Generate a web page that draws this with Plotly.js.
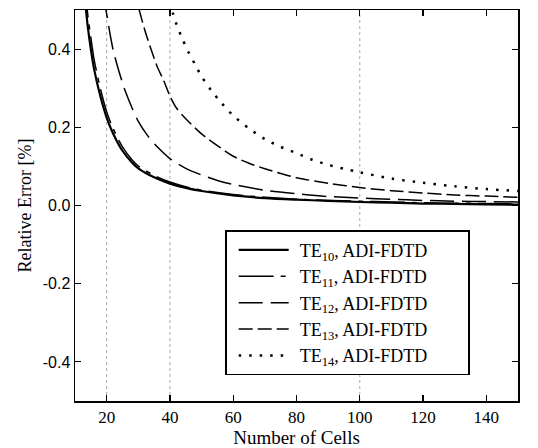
<!DOCTYPE html>
<html><head><meta charset="utf-8">
<script src="https://cdn.plot.ly/plotly-3.0.1.min.js"></script>
<style>html,body{margin:0;padding:0;background:#fff}</style>
</head><body><div id="chart" style="width:538px;height:448px"></div>
<script>
// Data
const xTE10 = [13, 14, 15, 16, 18, 20, 22, 25, 28, 30, 35, 40, 45, 50, 60, 70, 80, 90, 100, 110, 120, 130, 140, 150];
const yTE10 = [0.54, 0.46, 0.40, 0.35, 0.28, 0.225, 0.185, 0.14, 0.11, 0.095, 0.072, 0.056, 0.045, 0.037, 0.026, 0.019, 0.015, 0.012, 0.009, 0.007, 0.005, 0.004, 0.003, 0.002];
const xTE11 = [13, 14, 15, 16, 18, 20, 22, 25, 28, 30, 35, 40, 45, 50, 60, 70, 80, 90, 100, 110, 120, 130, 140, 150];
const yTE11 = [0.57, 0.49, 0.43, 0.375, 0.30, 0.24, 0.198, 0.150, 0.117, 0.101, 0.077, 0.060, 0.048, 0.039, 0.028, 0.021, 0.016, 0.013, 0.011, 0.009, 0.007, 0.006, 0.005, 0.004];
const xTE12 = [19, 20, 22, 24, 26, 28, 30, 33, 36, 40, 45, 50, 55, 60, 70, 80, 90, 100, 110, 120, 130, 140, 150];
const yTE12 = [0.54, 0.49, 0.40, 0.34, 0.29, 0.25, 0.215, 0.178, 0.15, 0.12, 0.095, 0.078, 0.064, 0.054, 0.039, 0.030, 0.023, 0.019, 0.016, 0.013, 0.011, 0.010, 0.009];
const xTE13 = [29, 30, 32, 34, 36, 38, 40, 42, 45, 48, 50, 55, 60, 65, 70, 75, 80, 90, 100, 110, 120, 130, 140, 150];
const yTE13 = [0.55, 0.51, 0.45, 0.40, 0.355, 0.32, 0.28, 0.25, 0.222, 0.198, 0.183, 0.153, 0.126, 0.108, 0.094, 0.082, 0.071, 0.057, 0.046, 0.038, 0.032, 0.027, 0.024, 0.021];
const xTE14 = [40, 41, 42, 44, 46, 48, 50, 53, 56, 60, 65, 70, 75, 80, 85, 90, 95, 100, 110, 120, 130, 140, 150];
const yTE14 = [0.52, 0.49, 0.465, 0.425, 0.39, 0.36, 0.33, 0.295, 0.265, 0.23, 0.197, 0.17, 0.150, 0.134, 0.117, 0.104, 0.094, 0.085, 0.069, 0.058, 0.049, 0.042, 0.037];

const seriesNames = ["TE<sub>10</sub>, ADI-FDTD", "TE<sub>11</sub>, ADI-FDTD", "TE<sub>12</sub>, ADI-FDTD", "TE<sub>13</sub>, ADI-FDTD", "TE<sub>14</sub>, ADI-FDTD"];
const xTickVals = [20, 40, 60, 80, 100, 120, 140];
const xTickText = ["20", "40", "60", "80", "100", "120", "140"];
const yTickVals = [-0.4, -0.2, 0, 0.2, 0.4];
const yTickText = ["-0.4", "-0.2", "0.0", "0.2", "0.4"];
const gridX = [20, 40, 100];

const styles = [
  {width: 2.2, dash: "solid"},
  {width: 1.5, dash: "35px,7px,5px,7px"},
  {width: 1.5, dash: "24px,8px"},
  {width: 1.5, dash: "14px,5px"},
  {width: 2.5, dash: "2.5px,8px"}
];
const xs = [xTE10, xTE11, xTE12, xTE13, xTE14];
const ys = [yTE10, yTE11, yTE12, yTE13, yTE14];

const traces = xs.map((x, i) => ({
  x: x, y: ys[i], name: seriesNames[i], type: "scatter", mode: "lines",
  line: {color: "#000", width: styles[i].width, dash: styles[i].dash, shape: "spline", smoothing: 0.8}
}));

const serif = "Liberation Serif, Times New Roman, serif";
const sans = "Liberation Sans, Arial, sans-serif";
const symW = 50;
const legendBoxW = 243;

const layout = {
  width: 538, height: 448,
  margin: {l: 75, r: 20, t: 10, b: 47},
  paper_bgcolor: "#fff", plot_bgcolor: "#fff",
  showlegend: true,
  xaxis: {
    range: [10, 150], tickvals: xTickVals, ticktext: xTickText,
    ticks: "inside", ticklen: 6, tickwidth: 1.2, tickcolor: "#000",
    showline: true, linecolor: "#000", linewidth: 1.5, mirror: "ticks",
    showgrid: false, zeroline: false,
    tickfont: {family: serif, size: 17, color: "#000"},
    title: {text: "Number of Cells", font: {family: serif, size: 19, color: "#000"}, standoff: 0}
  },
  yaxis: {
    range: [-0.5, 0.5], tickvals: yTickVals, ticktext: yTickText,
    ticks: "inside", ticklen: 6, tickwidth: 1.2, tickcolor: "#000",
    showline: true, linecolor: "#000", linewidth: 1.5, mirror: "ticks",
    showgrid: false, zeroline: false,
    tickfont: {family: sans, size: 16, color: "#000"},
    title: {text: "Relative Error [%]", font: {family: serif, size: 18, color: "#000"}, standoff: 6}
  },
  legend: {
    x: 0.339, y: 0.437, xanchor: "left", yanchor: "top",
    bgcolor: "#fff", bordercolor: "#000", borderwidth: 1.5,
    font: {family: serif, size: 18, color: "#000"},
    itemwidth: 63, tracegroupgap: 0
  },
  shapes: gridX.map(g => ({
    type: "line", xref: "x", yref: "paper", x0: g, x1: g, y0: 0, y1: 1,
    line: {color: "#aaa", width: 1, dash: "dot"}, layer: "below"
  }))
};

Plotly.newPlot("chart", traces, layout, {staticPlot: true}).then(gd => {
  gd.querySelectorAll(".legendlines path").forEach(p => p.setAttribute("d", "M12,0h" + symW));
  const bg = gd.querySelector(".legend rect.bg");
  if (bg) bg.setAttribute("width", legendBoxW);
});
</script>
</body></html>
